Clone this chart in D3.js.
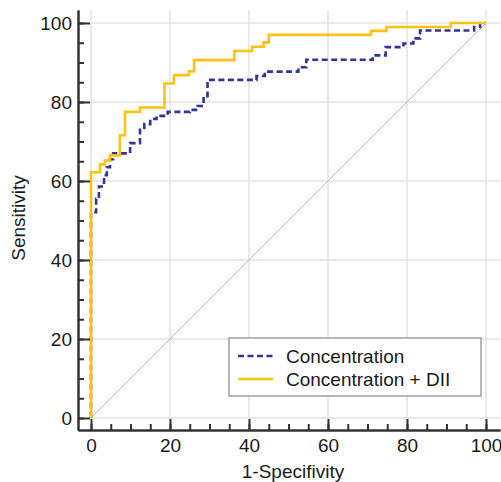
<!DOCTYPE html>
<html>
<head>
<meta charset="utf-8">
<script src="https://cdn.jsdelivr.net/npm/d3@7"></script>
<style>
  html,body{margin:0;padding:0;background:#fff;}
  text{font-family:Arial,"Liberation Sans",sans-serif;fill:#1a1a1a;}
</style>
</head>
<body>
<div id="chart"></div>
<script>
// ROC curves — operating points (1-specificity, sensitivity), in %
const concFpr = [0, 0, 1.3, 2.0, 3.3, 4.0, 4.8, 5.6, 9.9, 12.4, 13.5, 15.0, 16.6, 19.4, 25.0, 27.0, 28.5, 29.5, 41.9, 44.0, 52.5, 54.5, 71.3, 74.6, 79.1, 81.6, 83.3, 97.0, 98.5, 100];
const concTpr = [0, 52.1, 55.5, 58.6, 61.5, 63.5, 65.5, 67.0, 69.6, 73.4, 74.4, 75.7, 76.5, 77.5, 78.0, 79.0, 81.5, 85.6, 86.6, 87.7, 88.8, 90.7, 91.8, 93.9, 94.8, 96.1, 98.1, 99.0, 100, 100];
const diiFpr = [0, 0, 2.3, 3.5, 4.8, 7.3, 8.6, 12.4, 18.6, 21.0, 24.8, 26.1, 36.3, 40.8, 43.7, 45.0, 70.9, 74.8, 91.1, 100];
const diiTpr = [0, 62.2, 64.2, 65.2, 66.5, 71.6, 77.5, 78.6, 84.7, 86.8, 87.8, 90.6, 92.9, 94.0, 95.1, 97.0, 98.0, 99.0, 100, 100];
const majorTicks = [0, 20, 40, 60, 80, 100];
const minorTicks = d3.range(0, 101, 5);
const seriesNames = ['Concentration', 'Concentration + DII'];

const W = 501, H = 482;
const C = {blue:'#33339c', gold:'#ffc20e', diag:'#d8aaa4', grid:'#e2e2e2', axis:'#333'};
const frame = {l:78, r:500, t:10, b:430};

const x = d3.scaleLinear().domain([0,100]).range([91,486]);
const y = d3.scaleLinear().domain([0,100]).range([418,23]);
// same mapping, stretched to the frame so the axis line spans it
const xa = x.copy().domain([x.invert(frame.l), x.invert(frame.r)]).range([frame.l, frame.r]);
const ya = y.copy().domain([y.invert(frame.b), y.invert(frame.t)]).range([frame.b, frame.t]);

const svg = d3.select('#chart').append('svg').attr('width',W).attr('height',H);

// grid
const grid = svg.append('g');
grid.selectAll('.gx').data(majorTicks).join('line')
  .attr('x1',d=>x(d)).attr('x2',d=>x(d)).attr('y1',frame.t).attr('y2',frame.b)
  .attr('stroke',C.grid).attr('stroke-width',1.5);
grid.selectAll('.gy').data(majorTicks).join('line')
  .attr('x1',frame.l).attr('x2',frame.r).attr('y1',d=>y(d)).attr('y2',d=>y(d))
  .attr('stroke',C.grid).attr('stroke-width',1.5);

// reference diagonal
svg.append('line').attr('x1',x(0)).attr('y1',y(0)).attr('x2',x(100)).attr('y2',y(100))
  .attr('stroke',C.diag).attr('stroke-width',1);

// curves
const line = d3.line().x(d=>x(d[0])).y(d=>y(d[1])).curve(d3.curveStepAfter);
svg.append('path').datum(d3.zip(concFpr, concTpr)).attr('d',line)
  .attr('fill','none').attr('stroke',C.blue).attr('stroke-width',2.6).attr('stroke-dasharray','6,3.5');
svg.append('path').datum(d3.zip(diiFpr, diiTpr)).attr('d',line)
  .attr('fill','none').attr('stroke',C.gold).attr('stroke-width',2.6);

// axes (inward ticks)
function styleAxis(g){
  g.selectAll('path,line').attr('stroke',C.axis).attr('stroke-width',2);
  g.selectAll('text').attr('font-size',19).attr('fill','#1a1a1a').attr('font-family','Arial, "Liberation Sans", sans-serif');
}
svg.append('g').attr('transform',`translate(0,${frame.b})`)
  .call(d3.axisBottom(xa).tickValues(minorTicks).tickSize(-6).tickFormat('').tickSizeOuter(0))
  .call(styleAxis);
svg.append('g').attr('transform',`translate(0,${frame.b})`)
  .call(d3.axisBottom(xa).tickValues(majorTicks).tickSize(-11).tickPadding(9).tickSizeOuter(0))
  .call(styleAxis);
svg.append('g').attr('transform',`translate(${frame.l},0)`)
  .call(d3.axisLeft(ya).tickValues(minorTicks).tickSize(-6).tickFormat('').tickSizeOuter(0))
  .call(styleAxis);
svg.append('g').attr('transform',`translate(${frame.l},0)`)
  .call(d3.axisLeft(ya).tickValues(majorTicks).tickSize(-12).tickPadding(6).tickSizeOuter(0))
  .call(styleAxis);

// titles
svg.append('text').attr('x',293).attr('y',478).attr('text-anchor','middle').attr('font-size',19).text('1-Specifivity');
svg.append('text').attr('transform','translate(25,218) rotate(-90)').attr('text-anchor','middle').attr('font-size',19).text('Sensitivity');

// legend
const lg = svg.append('g');
lg.append('rect').attr('x',229).attr('y',338).attr('width',252).attr('height',58)
  .attr('fill','#fff').attr('stroke','#a0a0a0').attr('stroke-width',1.5);
[[C.blue,'6,3.5'],[C.gold,null]].forEach(([col,dash],i)=>{
  const yy = 356 + i*23;
  lg.append('line').attr('x1',238).attr('x2',273).attr('y1',yy).attr('y2',yy)
    .attr('stroke',col).attr('stroke-width',2.6).attr('stroke-dasharray',dash);
  lg.append('text').attr('x',286).attr('y',yy).attr('dy','0.35em').attr('font-size',19).text(seriesNames[i]);
});
</script>
</body>
</html>
